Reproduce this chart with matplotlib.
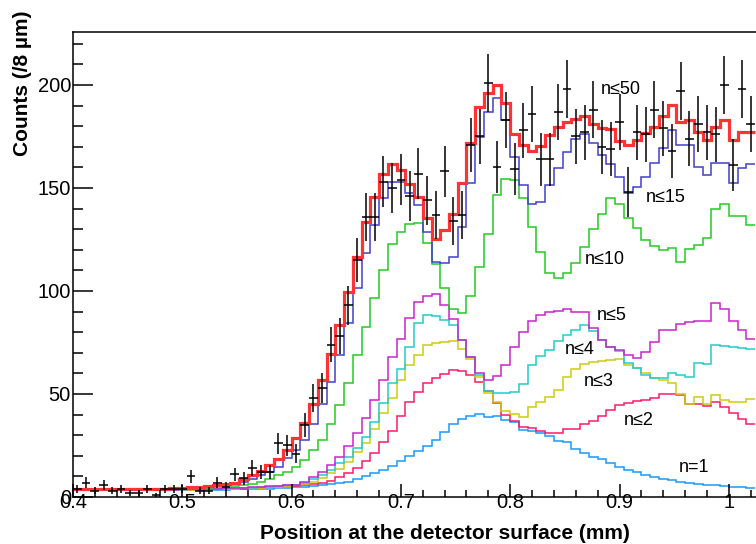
import numpy as np
import matplotlib
matplotlib.use('Agg')
import matplotlib.pyplot as plt
from matplotlib.ticker import MultipleLocator, FuncFormatter

plt.rcParams['font.family'] = ['Liberation Sans', 'DejaVu Sans']

# binning: 8 um bins starting at 0.4 mm
bin_lo = 0.4
bin_w = 0.008
n_bins = 78

# simulated histograms, n <= N scatterings (counts per bin)
h_n50 = [4, 4, 4, 4, 4, 4, 4, 4, 4, 4, 4, 4.2, 4.5, 5, 5, 5.5, 6, 6.5, 7, 8.5,
         10.5, 12.5, 15.5, 18.4, 22.8, 28.5, 35.8, 45, 56.8, 69.4, 83.5, 99.7, 116.6, 133.6, 145.8, 156.8,
         161.7, 158.7, 151.8, 145.8, 135.3, 125.1, 129.6, 137.2, 152.6, 172, 189.2, 196.3, 200, 191,
         176, 171, 168, 170.5, 175.7, 179.5, 182, 183.5, 185, 181.2, 179.2, 178.7, 172.9, 171, 173.4,
         176.7, 179.4, 184.8, 190.3, 182.2, 183, 177.2, 173.3, 179.5, 183, 173.2, 177, 177.3]
h_n15 = [4, 4, 4, 4, 4, 4, 4, 4, 4, 4, 4, 4, 4.3, 4.6, 4.8, 5, 5.5, 6, 6.5, 7.5,
         8.8, 10.5, 12.3, 14.7, 18.8, 22.8, 27.7, 35.4, 45.1, 56, 68.9, 84.3, 101.3, 118.3, 132, 145,
         153, 153, 147.4, 141.7, 128.8, 114.2, 113.4, 116.6, 131.2, 152.6, 174.6, 186.7, 193.5, 183,
         165.2, 151.5, 142.2, 143.2, 151.2, 159.7, 167.6, 173.6, 176.4, 172, 166, 161.7, 155.5, 147.7,
         150.6, 155.5, 162.3, 169.3, 178.2, 170.9, 170.9, 160.4, 156.3, 162, 162, 152.3, 159.5, 161.5]
h_n10 = [3.8, 3.8, 3.8, 3.8, 3.8, 3.8, 3.8, 3.8, 3.8, 3.8, 3.8, 3.8, 4, 4.2, 4.4, 4.6, 4.9, 5.2, 5.4, 5.6,
         6.2, 7.2, 8.6, 10.5, 12.3, 14.7, 18, 22.8, 27.7, 35.4, 44.7, 55.5, 68.9, 82.7, 96.4, 110,
         122.6, 128.8, 132.5, 132.9, 123.5, 113, 101.3, 91.1, 89.2, 97.6, 111.5, 127.5, 146.8, 154.4,
         153.8, 145.2, 131.2, 119.1, 108.8, 106.2, 108.6, 113.4, 121.5, 130, 137.3, 145.2, 142.4, 135.6,
         130.6, 124.8, 121.9, 119.9, 120.7, 114.2, 120.4, 122.3, 125.6, 140, 142.2, 136.5, 136.5, 132]
h_n5 = [3.6, 3.6, 3.6, 3.6, 3.6, 3.6, 3.6, 3.6, 3.6, 3.6, 3.6, 3.6, 3.7, 3.8, 3.9, 4, 4.1, 4.2, 4.4, 4.6,
        4.8, 5, 5.2, 5.4, 5.6, 5.9, 7.4, 9.9, 12.3, 15.5, 19.6, 24.8, 30.9, 38.2, 47.1, 56.8,
        67.8, 76.5, 86.7, 94.8, 97.6, 98.3, 93.2, 86.3, 76.2, 67.8, 60, 56.8, 58.7, 64.2,
        73, 80, 85.5, 88.5, 89.6, 90.3, 91.1, 90, 90, 81.8, 76, 72.8, 71.4, 68.9,
        67.3, 70.6, 75.4, 80.9, 81.2, 84, 85.1, 85.2, 85.3, 94.3, 91.1, 85.5, 81.1, 76.5]
h_n4 = [3.5, 3.5, 3.5, 3.5, 3.5, 3.5, 3.5, 3.5, 3.5, 3.5, 3.5, 3.5, 3.6, 3.7, 3.8, 3.9, 4, 4.1, 4.2, 4.4,
        4.6, 4.8, 5, 5.3, 5.6, 6, 6.6, 8.6, 10.7, 13.1, 16.3, 19.3, 23.6, 29.3, 36.6, 45.5,
        55.2, 62, 73, 84.6, 88.3, 87.8, 85.9, 83.5, 76.2, 67.8, 59.2, 51.6, 50.3, 50.3,
        51.1, 55, 64, 68.2, 71.5, 75.8, 78.6, 81, 83.7, 80.7, 76.2, 72.7, 71, 64.9,
        62.5, 59.2, 57.6, 57.6, 60.4, 59.2, 58.4, 64.9, 64.4, 73.8, 73.3, 72.7, 72.5, 71.7]
h_n3 = [3.4, 3.4, 3.4, 3.4, 3.4, 3.4, 3.4, 3.4, 3.4, 3.4, 3.4, 3.4, 3.5, 3.6, 3.7, 3.8, 3.9, 4, 4.1, 4.2,
        4.4, 4.6, 4.8, 5, 5.3, 5.7, 6.3, 7.4, 9, 11.5, 13.6, 17.1, 22, 26.4, 32.8, 40.9,
        47.9, 56.8, 64.1, 68.9, 73.8, 74.6, 75.4, 75.9, 71.7, 66.8, 58.4, 50.6, 46.3, 41.8,
        40.3, 39, 43.6, 46, 48.4, 51.8, 58.4, 62, 64.5, 65.5, 66, 66.4, 66.8, 64.1,
        62.5, 60, 57.8, 56.8, 55.2, 49.9, 45.3, 48.5, 44.9, 49.5, 47.1, 46.3, 46.3, 47.4]
h_n2 = [3.3, 3.3, 3.3, 3.3, 3.3, 3.3, 3.3, 3.3, 3.3, 3.3, 3.3, 3.3, 3.4, 3.5, 3.6, 3.7, 3.8, 3.9, 4, 4.1,
        4.3, 4.5, 4.7, 4.9, 5.1, 5.3, 5.6, 6.2, 6.9, 8, 9.5, 11.5, 14, 17.5, 21.5, 26.5,
        32, 39.5, 46, 51, 55.5, 58, 59.5, 61.7, 61, 59, 56, 51.5, 45.5, 40,
        37, 34, 33.5, 32, 31, 31, 33, 33, 35.5, 36.8, 39.5, 42, 44.5, 45.5,
        46.5, 47.2, 47.9, 50.2, 50, 49.3, 45, 45, 44.2, 46.3, 43.8, 40.8, 38, 35.4]
h_n1 = [3.2, 3.2, 3.2, 3.2, 3.2, 3.2, 3.2, 3.2, 3.2, 3.2, 3.2, 3.2, 3.2, 3.3, 3.3, 3.4, 3.5, 3.6, 3.7, 3.8,
        3.9, 4, 4.1, 4.3, 4.5, 4.7, 5, 5.3, 5.7, 6.2, 6.8, 7.5, 8.5, 10, 11.5, 13.3,
        15.2, 17.3, 19.7, 22.3, 24.8, 27.5, 31.7, 35.5, 37.7, 39.3, 40.5, 39, 39.2, 37.5,
        36.5, 32.5, 32, 31, 29.7, 27.3, 26.5, 23.4, 21.5, 19.3, 18.5, 16.4, 14.6, 13,
        12, 10.8, 9.8, 8.9, 8.1, 7.4, 6.7, 6.3, 5.9, 5.6, 5.3, 5, 4.7, 4.4]

# measured counts per bin
data = [4, 7, 3, 6, 3, 4, 2, 2, 4, 1, 4, 4, 4, 10, 3, 3, 7, 5, 11, 9,
        14, 12, 12, 26, 25, 21, 35, 48, 53, 74, 78, 93, 115, 136, 136, 153,
        150, 154, 146, 157, 144, 137, 158, 134, 137, 171, 175, 201, 160, 183,
        159, 178, 186, 164, 164, 187, 198, 175, 177, 188, 170, 169, 182, 148,
        177, 176, 188, 179, 168, 197, 174, 181, 177, 176, 200, 161, 198, 181]

labels = ['n=1', 'n≤2', 'n≤3', 'n≤4', 'n≤5', 'n≤10', 'n≤15', 'n≤50']
label_x = [0.954, 0.904, 0.867, 0.850, 0.879, 0.868, 0.924, 0.883]
label_y = [14.3, 36.9, 56.3, 71.4, 87.9, 115.5, 145.6, 197.6]

hists = [h_n1, h_n2, h_n3, h_n4, h_n5, h_n10, h_n15, h_n50]
colors = ['#1a99ff', '#ff1a66', '#cccc11', '#22cccc', '#cc22cc', '#22cc22', '#4040c8', '#ff3333']
widths = [1.1, 1.1, 1.1, 1.1, 1.1, 1.1, 1.1, 2.3]

edges = bin_lo + bin_w * np.arange(n_bins + 1)
centers = 0.5 * (edges[:-1] + edges[1:])

fig = plt.figure(figsize=(7.56, 5.44), dpi=100)
ax = fig.add_axes([73 / 756, 47 / 544, 683 / 756, 465 / 544])

for h, c, lw in zip(hists, colors, widths):
    ax.stairs(h, edges, color=c, linewidth=lw, baseline=None)

d = np.array(data, dtype=float)
ax.errorbar(centers, d, yerr=np.sqrt(d), xerr=bin_w / 2, fmt='none',
            ecolor='black', elinewidth=1.1, capsize=0)

for t, x, y in zip(labels, label_x, label_y):
    ax.text(x, y, t, fontsize=13, ha='left', va='center')

ax.set_xlim(0.4, 0.4 + 683 / 1093)
ax.set_ylim(0, 225.7)

ax.spines['right'].set_visible(False)
for s in ['left', 'bottom', 'top']:
    ax.spines[s].set_linewidth(1.1)

ax.xaxis.set_major_locator(MultipleLocator(0.1))
ax.xaxis.set_minor_locator(MultipleLocator(0.02))
ax.yaxis.set_major_locator(MultipleLocator(50))
ax.yaxis.set_minor_locator(MultipleLocator(10))
ax.xaxis.set_major_formatter(FuncFormatter(lambda v, p: '%g' % round(v, 3)))

ax.tick_params(axis='x', which='major', direction='in', length=9.4, width=1.1, labelsize=14.5, pad=-3)
ax.tick_params(axis='x', which='minor', direction='in', length=5, width=1.1)
ax.tick_params(axis='y', which='major', direction='in', length=14.4, width=1.1, labelsize=14.5, pad=1.5)
ax.tick_params(axis='y', which='minor', direction='in', length=7.2, width=1.1)

fig.text(0.588, 0.0202, 'Position at the detector surface (mm)', fontsize=15,
         fontweight='bold', ha='center', va='center')
fig.text(0.0304, 0.8465, 'Counts (/8 µm)', fontsize=15, fontweight='bold',
         ha='center', va='center', rotation=90)

fig.savefig('out.png', dpi=100)
